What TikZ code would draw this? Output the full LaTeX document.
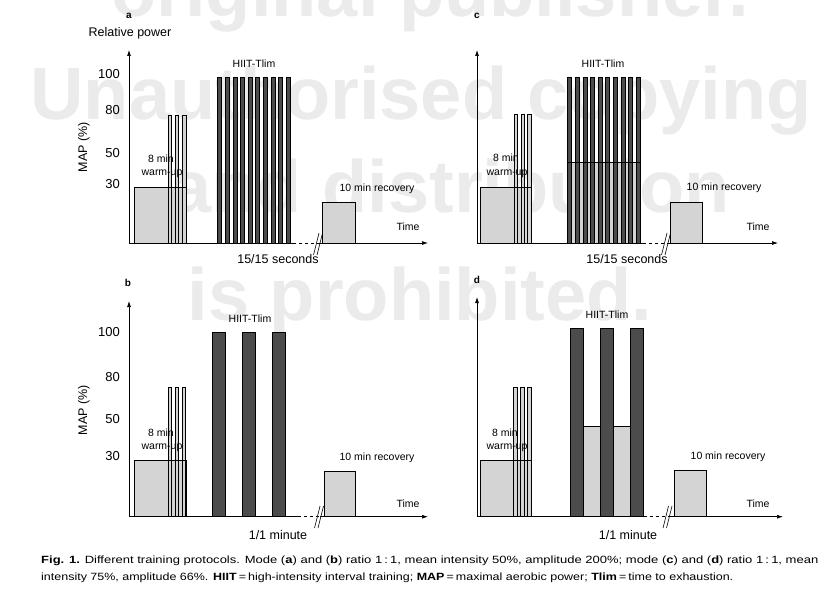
\documentclass[tikz,border=0pt]{standalone}
\usepackage{fontspec}
\setmainfont{Liberation Sans}
\usepackage{graphicx}
\usetikzlibrary{arrows.meta}
\definecolor{boxgray}{gray}{0.83}
\definecolor{bargray}{gray}{0.30}
\definecolor{wmgray}{gray}{0.92}
\tikzset{
  ax/.style={line width=0.7pt,-{Latex[length=6pt,width=4pt]}},
  axl/.style={line width=0.7pt},
  axd/.style={line width=0.7pt,dash pattern=on 3pt off 3pt},
  box/.style={draw=black,line width=0.6pt,fill=boxgray},
  dark/.style={draw=black,line width=0.6pt,fill=bargray},
  thin/.style={line width=0.6pt},
  lbl/.style={font=\fontsize{10.5}{12}\selectfont,inner sep=0pt},
  tck/.style={font=\fontsize{13}{15}\selectfont,anchor=east,inner sep=0pt},
  big/.style={font=\fontsize{12.5}{14}\selectfont,inner sep=0pt},
  pl/.style={font=\bfseries\fontsize{10}{12}\selectfont,inner sep=0pt},
  wm/.style={text=wmgray,font=\bfseries\fontsize{74}{80}\selectfont,inner sep=0pt,anchor=base},
  captext/.style={font=\fontsize{10.5}{12}\selectfont,inner sep=0pt,anchor=west},
}
\begin{document}
\begin{tikzpicture}[x=1pt,y=-1pt]
\useasboundingbox[fill=white] (0,0) rectangle (826,591);
% watermark
\node[wm] (w1) at (430,17) {original publisher.};
\node[wm] (w2) at (421,120) {Unauthorised copying};
\node[wm] (w3) at (450,212) {and distribution};
\node[wm] (w4) at (420,320) {is prohibited.};

% ================= panel a =================
\draw[box] (134,243) rectangle (186,187);
\foreach \x in {168,175.3,182.6} \draw[box] (\x,243) rectangle ++(3.4,-128);
\draw[thin] (134,187) -- (186,187);
\foreach \i in {0,...,9} \draw[dark] ({217.7+7.6*\i},243) rectangle ++(4,-166);
\draw[box] (322,243) rectangle (355.7,202);
\draw[ax] (129,243) -- (129,50);
\draw[axl] (129,243) -- (293,243);
\draw[axd] (293,243) -- (319,243);
\draw[ax] (319,243) -- (428,243);
\draw[thin] (313.5,255) -- (319,233);
\draw[thin] (317,255) -- (322.5,233);
\node[pl] (la) at (129,16) {a};
\node[big] (rp) at (130,33) {Relative power};
\node[tck] (a100) at (120,74) {100};
\node[tck] (a80) at (120,110) {80};
\node[tck] (a50) at (120,153) {50};
\node[tck] (a30) at (120,184) {30};
\node[big,rotate=90] (amap) at (84,147) {MAP (\%)};
\node[lbl] (a8) at (161,159) {8 min};
\node[lbl] (awu) at (162,174) {warm-up};
\node[lbl] (ah) at (254,64) {HIIT-Tlim};
\node[lbl] (arec) at (377,189) {10 min recovery};
\node[lbl] (atime) at (408,227) {Time};
\node[big] (asec) at (278,259) {15/15 seconds};

% ================= panel c =================
\draw[box] (480,243) rectangle (531,187);
\foreach \x in {514.3,521,527.6} \draw[box] (\x,243) rectangle ++(3.4,-129);
\draw[thin] (480,187) -- (531,187);
\fill[boxgray] (567.7,243) rectangle (640,162);
\foreach \i in {0,...,9} \draw[dark] ({567.7+7.6*\i},243) rectangle ++(4,-166);
\draw[thin] (567.7,162) -- (640,162);
\draw[box] (670,243) rectangle (702.7,202);
\draw[ax] (477,243) -- (477,50);
\draw[axl] (477,243) -- (643,243);
\draw[axd] (643,243) -- (667,243);
\draw[ax] (667,243) -- (778,243);
\draw[thin] (661.5,255) -- (667,233);
\draw[thin] (665,255) -- (670.5,233);
\node[pl] (lc) at (477,16) {c};
\node[lbl] (c8) at (506,158) {8 min};
\node[lbl] (cwu) at (507,174) {warm-up};
\node[lbl] (ch) at (603,64) {HIIT-Tlim};
\node[lbl] (crec) at (724,188) {10 min recovery};
\node[lbl] (ctime) at (758,227) {Time};
\node[big] (csec) at (627,259) {15/15 seconds};

% ================= panel b =================
\draw[box] (134,516.7) rectangle (186,460);
\foreach \x in {168.3,175.3,182.3} \draw[box] (\x,516.7) rectangle ++(3.4,-129.7);
\draw[thin] (134,460) -- (186,460);
\foreach \x in {212.3,242.3,272.3} \draw[dark] (\x,516.7) rectangle ++(13.4,-184);
\draw[box] (324,516.7) rectangle (355.7,471.3);
\draw[ax] (129,516.7) -- (129,301);
\draw[axl] (129,516.7) -- (298,516.7);
\draw[axd] (298,516.7) -- (320,516.7);
\draw[ax] (320,516.7) -- (428,516.7);
\draw[thin] (314.5,528) -- (320,506);
\draw[thin] (318,528) -- (323.5,506);
\node[pl] (lb) at (128,283) {b};
\node[tck] (b100) at (120,332) {100};
\node[tck] (b80) at (120,377) {80};
\node[tck] (b50) at (120,419) {50};
\node[tck] (b30) at (120,456) {30};
\node[big,rotate=90] (bmap) at (84,410) {MAP (\%)};
\node[lbl] (b8) at (161,433) {8 min};
\node[lbl] (bwu) at (162,448) {warm-up};
\node[lbl] (bh) at (250,319) {HIIT-Tlim};
\node[lbl] (brec) at (377,458) {10 min recovery};
\node[lbl] (btime) at (408,504) {Time};
\node[big] (bmin) at (278,535) {1/1 minute};

% ================= panel d =================
\draw[box] (480,516.7) rectangle (531,460.7);
\foreach \x in {513.6,520.6,527.6} \draw[box] (\x,516.7) rectangle ++(3.4,-129.7);
\draw[thin] (480,460.7) -- (531,460.7);
\draw[box] (583.7,516.7) rectangle (631.3,426);
\foreach \x in {570.3,600.3,630.3} \draw[dark] (\x,516.7) rectangle ++(13.4,-188.4);
\draw[box] (674.3,516.7) rectangle (706,470.3);
\draw[ax] (477,516.7) -- (477,297);
\draw[axl] (477,516.7) -- (644,516.7);
\draw[axd] (644,516.7) -- (668,516.7);
\draw[ax] (668,516.7) -- (783,516.7);
\draw[thin] (663,528) -- (668.5,506);
\draw[thin] (666.5,528) -- (672,506);
\node[pl] (ld) at (477,280) {d};
\node[lbl] (d8) at (505,433) {8 min};
\node[lbl] (dwu) at (507,448) {warm-up};
\node[lbl] (dh) at (607,315) {HIIT-Tlim};
\node[lbl] (drec) at (728,457) {10 min recovery};
\node[lbl] (dtime) at (758,504) {Time};
\node[big] (dmin) at (628,535) {1/1 minute};

% ================= caption =================
\node[captext] (cap1) at (41,561) {\resizebox{777pt}{\height}{\textbf{Fig. 1.} Different training protocols. Mode (\textbf{a}) and (\textbf{b}) ratio 1\,:\,1, mean intensity 50\%, amplitude 200\%; mode (\textbf{c}) and (\textbf{d}) ratio 1\,:\,1, mean}};
\node[captext] (cap2) at (41,578) {\resizebox{692pt}{\height}{intensity 75\%, amplitude 66\%. \textbf{HIIT}\,=\,high-intensity interval training; \textbf{MAP}\,=\,maximal aerobic power; \textbf{Tlim}\,=\,time to exhaustion.}};
\end{tikzpicture}
\end{document}
